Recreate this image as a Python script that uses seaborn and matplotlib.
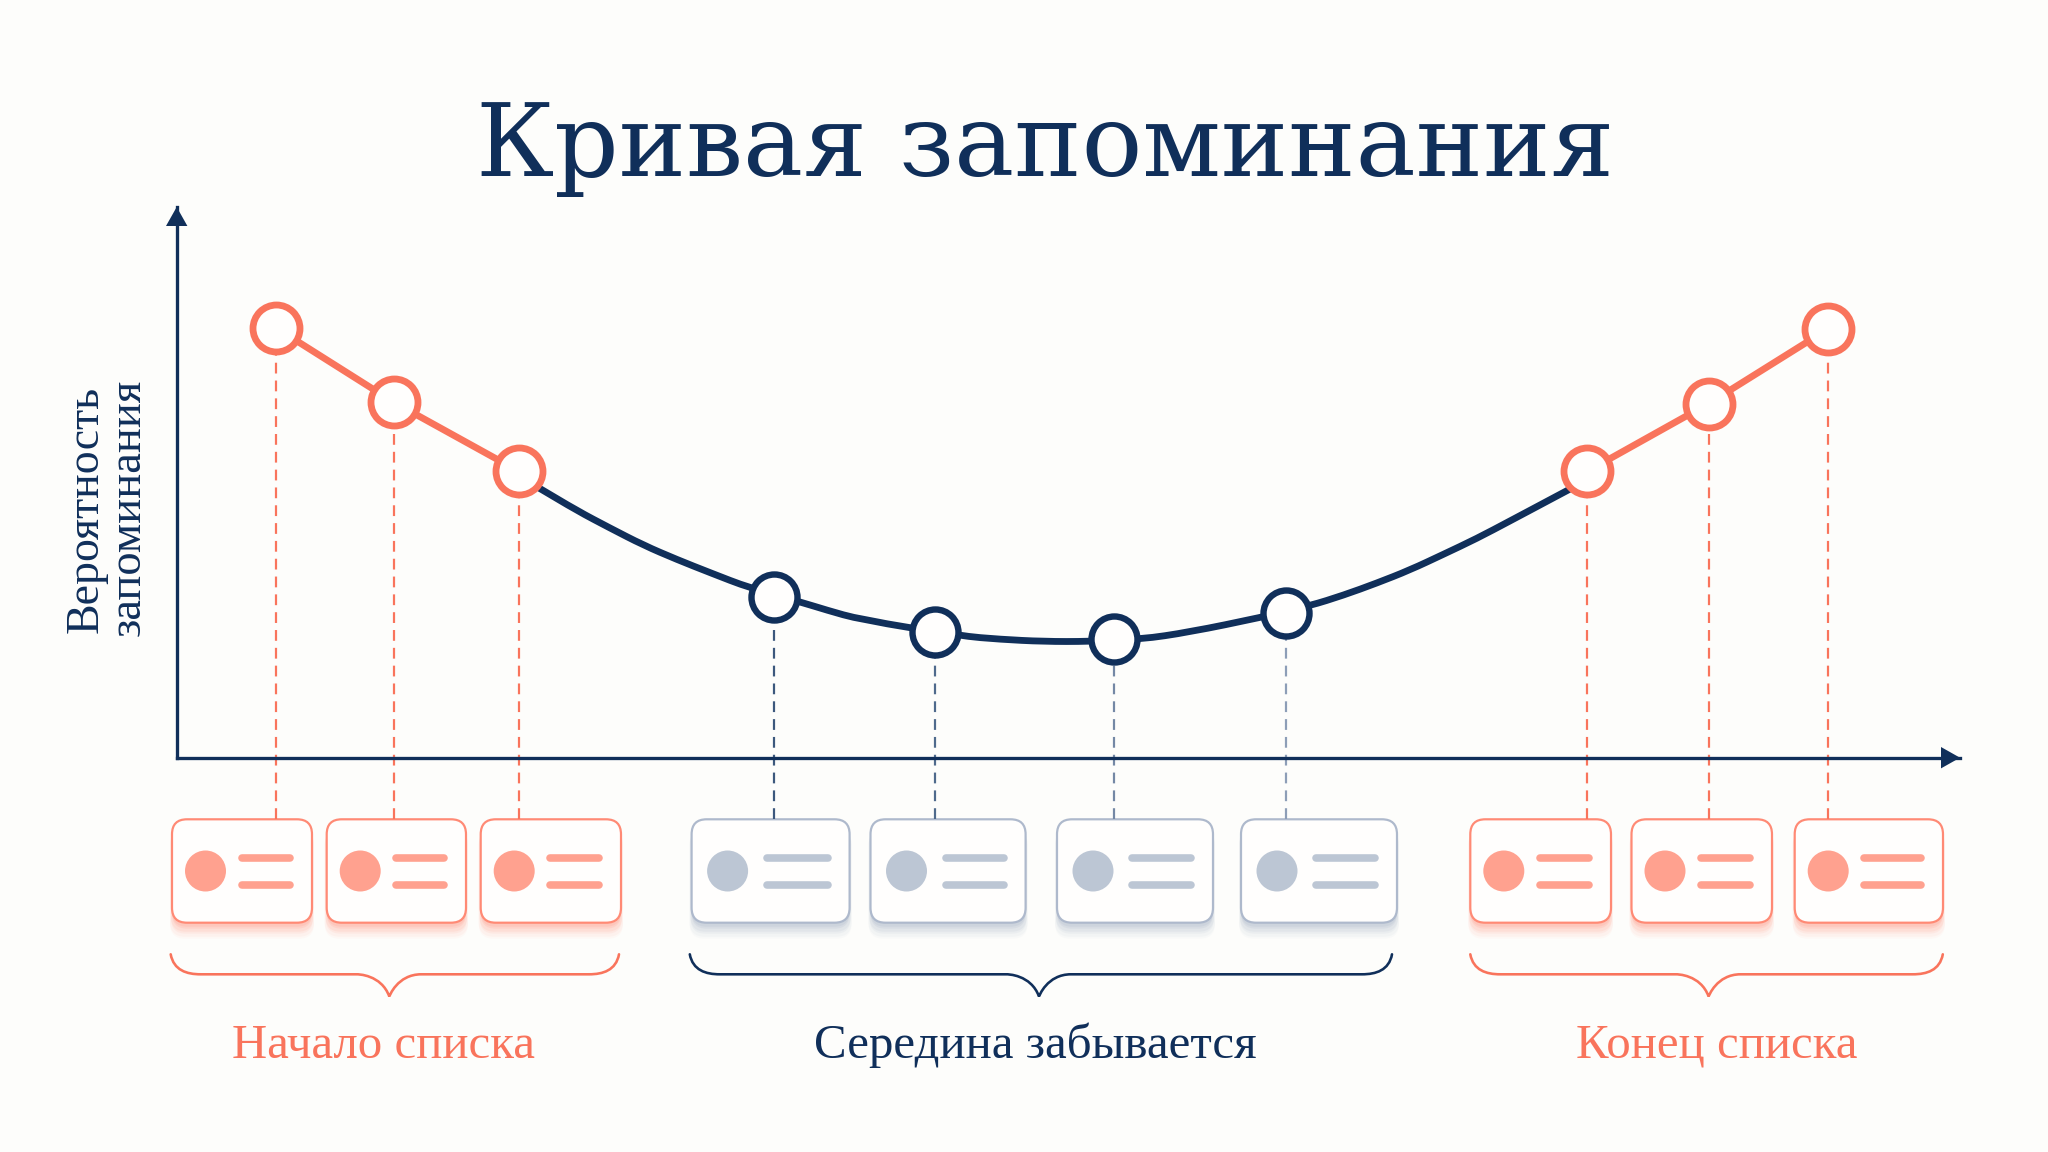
import numpy as np
import pandas as pd
import matplotlib.pyplot as plt
from matplotlib.patches import FancyBboxPatch, Circle, PathPatch, Polygon
from matplotlib.path import Path
import seaborn as sns

# ======================
# DATA
# ======================
TITLE = "Кривая запоминания"
Y_LABEL_1 = "Вероятность"
Y_LABEL_2 = "запоминания"

# list position and recall on a 0-100 scale of each axis
start_x = [5.55, 12.20, 19.19]
start_y = [78.1, 64.5, 52.0]
middle_x = [33.51, 42.52, 52.55, 62.18]
middle_y = [29.2, 22.9, 21.5, 26.2]
end_x = [79.10, 85.90, 92.57]
end_y = [52.0, 64.3, 77.8]

curve_x = [19.19, 20.37, 22.43, 24.30, 26.17, 28.04, 29.91, 32.15, 34.95, 36.45,
           38.31, 43.98, 46.17, 48.61, 51.19, 54.05, 56.77, 60.84, 63.55, 65.42,
           67.29, 69.16, 71.01, 72.90, 74.77, 76.63, 78.02, 79.08]
curve_y = [51.0, 48.9, 44.9, 41.7, 38.6, 36.0, 33.6, 30.8, 28.3, 26.8,
           25.1, 22.1, 21.5, 21.1, 21.1, 21.5, 22.8, 25.5, 27.6, 29.5,
           31.7, 34.1, 36.9, 39.8, 43.0, 46.2, 48.6, 50.4]

group_labels = ["Начало списка", "Середина забывается", "Конец списка"]

# ======================
# LAYOUT (pixels of the 2048x1152 picture)
# ======================
W, H = 2048, 1152
AX_LEFT, AX_RIGHT, AX_TOP, AX_BOTTOM = 176.7, 1960, 207, 757.7
PX = 0.72  # one pixel in points at dpi=100

CARD_TOP, CARD_BOTTOM = 819.3, 922.7
start_cards = [(172, 312), (326.7, 466), (480.7, 621)]
middle_cards = [(691.6, 849.6), (870.5, 1025.6), (1057, 1213), (1241, 1397)]
end_cards = [(1470.3, 1611), (1631.5, 1772), (1794.7, 1943)]

start_brace = (170.7, 389.3, 619)
middle_brace = (689.8, 1039, 1392)
end_brace = (1470.3, 1708.6, 1942.8)

label_pos = [(384, 1057.5), (1035.5, 1057.5), (1716.5, 1057.5)]

BG = "#FDFDFB"
NAVY = "#102F5A"
CORAL = "#F9745C"
CORAL_EDGE = "#FF8A75"
CORAL_FILL = "#FFA18F"
CORAL_SHADOW = "#FF9C8A"
GREY_EDGE = "#AEB9CC"
GREY_FILL = "#BCC6D4"
GREY_SHADOW = "#A9B5C8"
SERIF = "Liberation Serif"

sns.set_theme(style="white")
plt.rcParams["font.family"] = [SERIF, "DejaVu Serif"]

fig = plt.figure(figsize=(W / 100, H / 100), dpi=100, facecolor=BG)

# overlay in pixel coordinates for cards, braces and texts
bg = fig.add_axes([0, 0, 1, 1], facecolor=BG)
bg.set_xlim(0, W)
bg.set_ylim(H, 0)
bg.axis("off")


def draw_card(left, right, edge, fill, shadow, circle_dx, line_dx):
    w = right - left
    h = CARD_BOTTOM - CARD_TOP
    # soft shadow under the card
    for off, alpha, grow in [(14, 0.05, 2), (12, 0.07, 2), (10, 0.1, 1), (8, 0.13, 1),
                             (6, 0.17, 0), (4, 0.2, 0)]:
        bg.add_patch(FancyBboxPatch((left + 14, CARD_TOP + 14 + off), w - 28, h - 28,
                                    boxstyle=f"round,pad={14 + grow},rounding_size=15",
                                    fc=shadow, ec="none", alpha=alpha, zorder=2))
    bg.add_patch(FancyBboxPatch((left + 14, CARD_TOP + 14), w - 28, h - 28,
                                boxstyle="round,pad=14,rounding_size=15",
                                fc="#FFFEFD", ec=edge, lw=2.2 * PX, zorder=3))
    cy = 871
    bg.add_patch(Circle((left + circle_dx, cy), 20.5, fc=fill, ec="none", zorder=4))
    for ly in [857.7, 885.3]:
        bg.plot([left + line_dx + 3, right - 22], [ly, ly], color=fill, lw=7.6 * PX,
                solid_capstyle="round", zorder=4)


for left, right in start_cards + end_cards:
    draw_card(left, right, CORAL_EDGE, CORAL_FILL, CORAL_SHADOW, 33.5, 66.5)
for left, right in middle_cards:
    draw_card(left, right, GREY_EDGE, GREY_FILL, GREY_SHADOW, 36, 72)


def draw_brace(x0, tip, x1, color):
    top, mid, low = 954.3, 974.3, 996.5
    verts = [(x0, top), (x0 + 3, mid - 4), (x0 + 16, mid), (x0 + 30, mid),
             (tip - 32, mid),
             (tip - 32, mid), (tip - 8, mid), (tip, low),
             (tip, low), (tip + 8, mid), (tip + 32, mid),
             (x1 - 30, mid),
             (x1 - 16, mid), (x1 - 3, mid - 4), (x1, top)]
    codes = [Path.MOVETO, Path.CURVE4, Path.CURVE4, Path.CURVE4,
             Path.LINETO,
             Path.CURVE4, Path.CURVE4, Path.CURVE4,
             Path.CURVE4, Path.CURVE4, Path.CURVE4,
             Path.LINETO,
             Path.CURVE4, Path.CURVE4, Path.CURVE4]
    bg.add_patch(PathPatch(Path(verts, codes), fc="none", ec=color, lw=2.6 * PX,
                           joinstyle="miter", capstyle="round", zorder=3))


draw_brace(*start_brace, CORAL)
draw_brace(*middle_brace, NAVY)
draw_brace(*end_brace, CORAL)

# ======================
# TEXTS
# ======================
bg.text(1045, 176, TITLE, fontsize=72.7, color=NAVY, ha="center", va="baseline",
        family="DejaVu Serif")
bg.text(97.5, 509, Y_LABEL_1, fontsize=33, color=NAVY, rotation=90,
        ha="center", va="baseline", rotation_mode="anchor")
bg.text(139.5, 507, Y_LABEL_2, fontsize=33.5, color=NAVY, rotation=90,
        ha="center", va="baseline", rotation_mode="anchor")
for (tx, ty), label, col in zip(label_pos, group_labels, [CORAL, NAVY, CORAL]):
    bg.text(tx, ty, label, fontsize=35.2, color=col, ha="center", va="baseline")

# axis arrow heads
bg.add_patch(Polygon([(AX_LEFT, AX_TOP), (AX_LEFT - 10.7, 226), (AX_LEFT + 10.7, 226)],
                     fc=NAVY, ec="none", zorder=6))
bg.add_patch(Polygon([(AX_RIGHT, AX_BOTTOM), (1941, AX_BOTTOM - 10.7), (1941, AX_BOTTOM + 10.7)],
                     fc=NAVY, ec="none", zorder=6))

# ======================
# CHART
# ======================
ax = fig.add_axes([AX_LEFT / W, 1 - AX_BOTTOM / H,
                   (AX_RIGHT - AX_LEFT) / W, (AX_BOTTOM - AX_TOP) / H])
ax.patch.set_alpha(0)
ax.set_xlim(0, 100)
ax.set_ylim(0, 100)

card_top_value = (AX_BOTTOM - CARD_TOP) / (AX_BOTTOM - AX_TOP) * 100

# dashed drops to the cards
dash = (0, (4.9, 3.2))
ax.vlines(start_x + end_x, card_top_value, start_y + end_y, color=CORAL, lw=2.2 * PX,
          linestyles=[dash], clip_on=False, zorder=1)
for x, y, col in zip(middle_x, middle_y, ["#3C587D", "#4F6A8C", "#7488A5", "#8D9EB7"]):
    ax.vlines(x, card_top_value, y, color=col, lw=2.2 * PX, linestyles=[dash],
              clip_on=False, zorder=1)

# smooth navy curve: quadratic pieces through the midpoints of the read points
pts = np.column_stack([curve_x, curve_y])
mids = (pts[:-1] + pts[1:]) / 2
verts = [pts[0], mids[0]]
codes = [Path.MOVETO, Path.LINETO]
for p, m in zip(pts[1:-1], mids[1:]):
    verts += [p, m]
    codes += [Path.CURVE3, Path.CURVE3]
verts.append(pts[-1])
codes.append(Path.LINETO)
ax.add_patch(PathPatch(Path(verts, codes), fc="none", ec=NAVY, lw=6.8 * PX, zorder=2))

for xs, ys in [(start_x, start_y), (end_x, end_y)]:
    sns.lineplot(x=xs, y=ys, color=CORAL, lw=6.8 * PX, estimator=None, sort=False,
                 ax=ax, zorder=2)

marker_size = (47 * PX) ** 2
sns.scatterplot(x=start_x + end_x, y=start_y + end_y, s=marker_size, color="#FFFEFD",
                edgecolor=CORAL, linewidth=6.8 * PX, ax=ax, zorder=3, clip_on=False)
sns.scatterplot(x=middle_x, y=middle_y, s=(46 * PX) ** 2, color="#FFFEFD",
                edgecolor=NAVY, linewidth=6.4 * PX, ax=ax, zorder=3, clip_on=False)

ax.set_xlabel("")
ax.set_ylabel("")
ax.set_xticks([])
ax.set_yticks([])
sns.despine(ax=ax)
for side in ["left", "bottom"]:
    ax.spines[side].set_color(NAVY)
    ax.spines[side].set_linewidth(3.3 * PX)

fig.savefig("out.png", dpi=100, facecolor=BG)
